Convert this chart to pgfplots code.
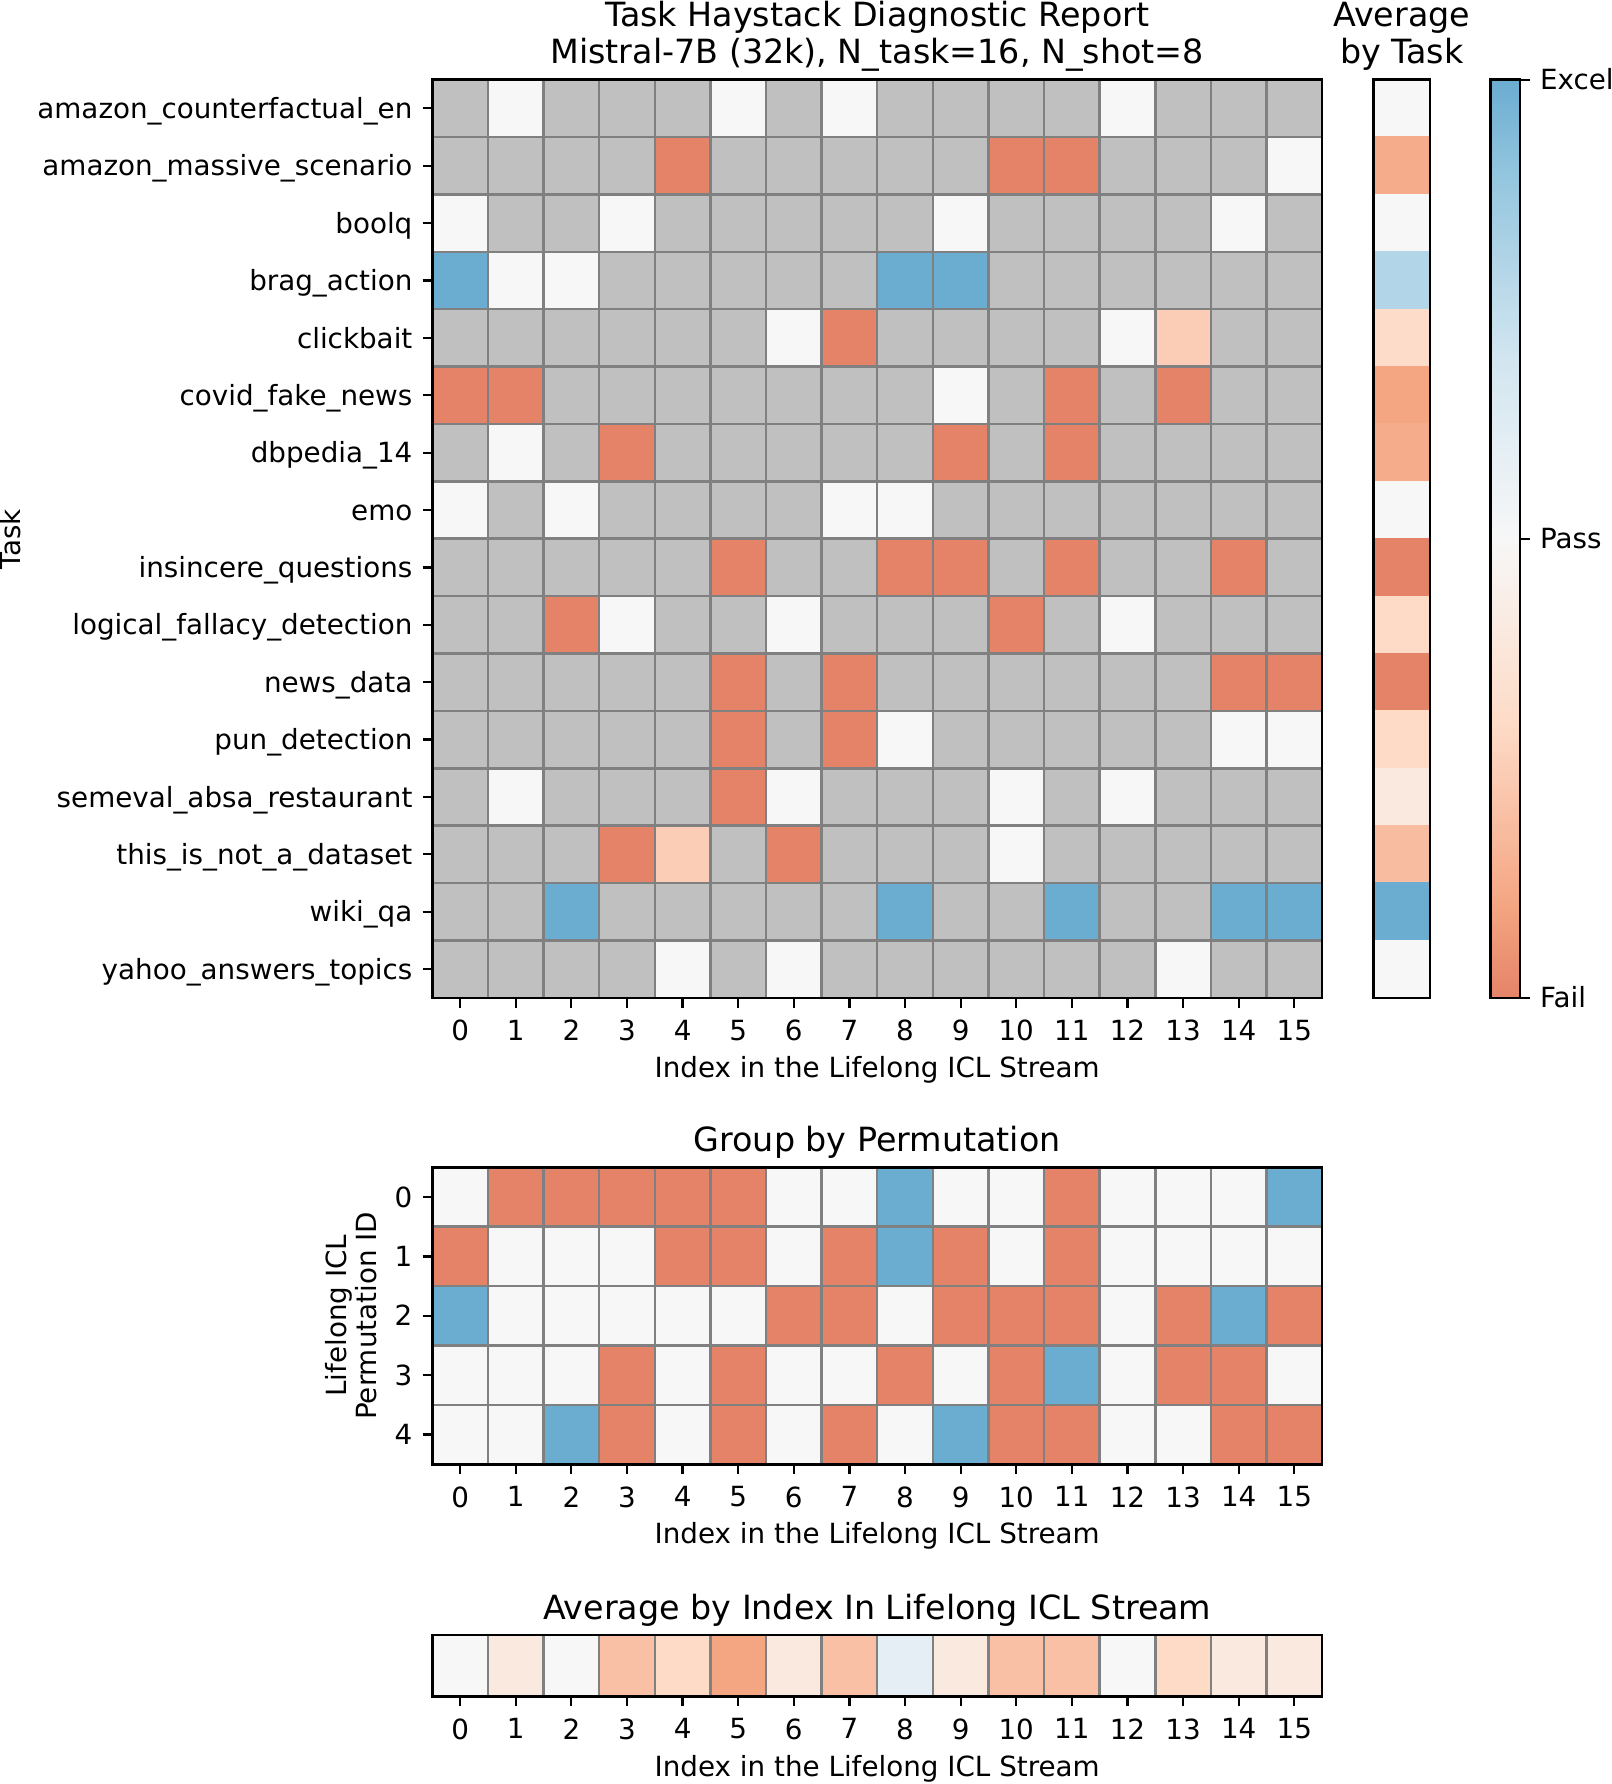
\documentclass[border=0pt]{standalone}
\usepackage{pgfplots}
\pgfplotsset{compat=1.18}
\usepackage{fontspec}
\setmainfont{DejaVu Sans}
\newcommand\fsa{\fontsize{10}{12}\selectfont}
\newcommand\fsb{\fontsize{12}{14.4}\selectfont}
\pgfplotsset{
  colormap={rdb}{rgb255=(229,131,104) rgb255=(244,165,130) rgb255=(249,192,165) rgb255=(253,219,199) rgb255=(250,233,223) rgb255=(247,247,247) rgb255=(228,238,244) rgb255=(209,229,240) rgb255=(178,213,231) rgb255=(146,197,222) rgb255=(107,172,209)},
  colormap={rdbg}{rgb255=(192,192,192) rgb255=(192,192,192) rgb255=(192,192,192) rgb255=(192,192,192) rgb255=(192,192,192) rgb255=(229,131,104) rgb255=(244,165,130) rgb255=(249,192,165) rgb255=(253,219,199) rgb255=(250,233,223) rgb255=(247,247,247) rgb255=(228,238,244) rgb255=(209,229,240) rgb255=(178,213,231) rgb255=(146,197,222) rgb255=(107,172,209)},
  hm/.style={
    scale only axis, axis on top, anchor=south west,
    clip marker paths=true,
    tick align=outside, major tick length=3.5pt,
    tick style={black, line width=0.8pt},
    minor tick length=0pt,
    axis line style={black, line width=0.9pt},
    minor grid style={draw=gray, line width=0.9pt},
    /pgf/number format/assume math mode=true,
    tick label style={font=\fsa},
    xticklabel style={inner sep=0pt, anchor=north, yshift=-4.3pt},
    yticklabel style={inner sep=0pt, anchor=base east, yshift=-3.65pt, xshift=-3.5pt},
    xtick pos=bottom, ytick pos=left,
  },
  cells/.style={scatter, only marks, mark=square*, point meta=explicit,
    scatter/use mapped color={draw=mapped color, fill=mapped color}},
}
\begin{document}
\begin{tikzpicture}
\useasboundingbox (0pt,0pt) rectangle (579.99pt,642.25pt);
% ---------- main heatmap ----------
\begin{axis}[hm, at={(155.65pt,283.03pt)}, width=320.31pt, height=330.55pt,
  colormap name=rdbg, point meta min=-1, point meta max=2,
  xmin=-0.5, xmax=15.5, ymin=-0.5, ymax=15.5, y dir=reverse,
  xtick={0,...,15}, ytick={0,...,15},
  yticklabels={amazon\_counterfactual\_en, amazon\_massive\_scenario, boolq, brag\_action, clickbait, covid\_fake\_news, dbpedia\_14, emo, insincere\_questions, logical\_fallacy\_detection, news\_data, pun\_detection, semeval\_absa\_restaurant, this\_is\_not\_a\_dataset, wiki\_qa, yahoo\_answers\_topics},
  minor xtick={-0.5,0.5,...,15.5}, minor ytick={-0.5,0.5,...,15.5},
  xminorgrids, yminorgrids]
\addplot[cells, mark size=10.33pt, mark options={xscale=0.969}] coordinates {
(0,0) [-1] (1,0) [1] (2,0) [-1] (3,0) [-1] (4,0) [-1] (5,0) [1] (6,0) [-1] (7,0) [1] (8,0) [-1] (9,0) [-1] (10,0) [-1] (11,0) [-1] (12,0) [1] (13,0) [-1] (14,0) [-1] (15,0) [-1]
(0,1) [-1] (1,1) [-1] (2,1) [-1] (3,1) [-1] (4,1) [0] (5,1) [-1] (6,1) [-1] (7,1) [-1] (8,1) [-1] (9,1) [-1] (10,1) [0] (11,1) [0] (12,1) [-1] (13,1) [-1] (14,1) [-1] (15,1) [1]
(0,2) [1] (1,2) [-1] (2,2) [-1] (3,2) [1] (4,2) [-1] (5,2) [-1] (6,2) [-1] (7,2) [-1] (8,2) [-1] (9,2) [1] (10,2) [-1] (11,2) [-1] (12,2) [-1] (13,2) [-1] (14,2) [1] (15,2) [-1]
(0,3) [2] (1,3) [1] (2,3) [1] (3,3) [-1] (4,3) [-1] (5,3) [-1] (6,3) [-1] (7,3) [-1] (8,3) [2] (9,3) [2] (10,3) [-1] (11,3) [-1] (12,3) [-1] (13,3) [-1] (14,3) [-1] (15,3) [-1]
(0,4) [-1] (1,4) [-1] (2,4) [-1] (3,4) [-1] (4,4) [-1] (5,4) [-1] (6,4) [1] (7,4) [0] (8,4) [-1] (9,4) [-1] (10,4) [-1] (11,4) [-1] (12,4) [1] (13,4) [0.5] (14,4) [-1] (15,4) [-1]
(0,5) [0] (1,5) [0] (2,5) [-1] (3,5) [-1] (4,5) [-1] (5,5) [-1] (6,5) [-1] (7,5) [-1] (8,5) [-1] (9,5) [1] (10,5) [-1] (11,5) [0] (12,5) [-1] (13,5) [0] (14,5) [-1] (15,5) [-1]
(0,6) [-1] (1,6) [1] (2,6) [-1] (3,6) [0] (4,6) [-1] (5,6) [-1] (6,6) [-1] (7,6) [-1] (8,6) [-1] (9,6) [0] (10,6) [-1] (11,6) [0] (12,6) [-1] (13,6) [-1] (14,6) [-1] (15,6) [-1]
(0,7) [1] (1,7) [-1] (2,7) [1] (3,7) [-1] (4,7) [-1] (5,7) [-1] (6,7) [-1] (7,7) [1] (8,7) [1] (9,7) [-1] (10,7) [-1] (11,7) [-1] (12,7) [-1] (13,7) [-1] (14,7) [-1] (15,7) [-1]
(0,8) [-1] (1,8) [-1] (2,8) [-1] (3,8) [-1] (4,8) [-1] (5,8) [0] (6,8) [-1] (7,8) [-1] (8,8) [0] (9,8) [0] (10,8) [-1] (11,8) [0] (12,8) [-1] (13,8) [-1] (14,8) [0] (15,8) [-1]
(0,9) [-1] (1,9) [-1] (2,9) [0] (3,9) [1] (4,9) [-1] (5,9) [-1] (6,9) [1] (7,9) [-1] (8,9) [-1] (9,9) [-1] (10,9) [0] (11,9) [-1] (12,9) [1] (13,9) [-1] (14,9) [-1] (15,9) [-1]
(0,10) [-1] (1,10) [-1] (2,10) [-1] (3,10) [-1] (4,10) [-1] (5,10) [0] (6,10) [-1] (7,10) [0] (8,10) [-1] (9,10) [-1] (10,10) [-1] (11,10) [-1] (12,10) [-1] (13,10) [-1] (14,10) [0] (15,10) [0]
(0,11) [-1] (1,11) [-1] (2,11) [-1] (3,11) [-1] (4,11) [-1] (5,11) [0] (6,11) [-1] (7,11) [0] (8,11) [1] (9,11) [-1] (10,11) [-1] (11,11) [-1] (12,11) [-1] (13,11) [-1] (14,11) [1] (15,11) [1]
(0,12) [-1] (1,12) [1] (2,12) [-1] (3,12) [-1] (4,12) [-1] (5,12) [0] (6,12) [1] (7,12) [-1] (8,12) [-1] (9,12) [-1] (10,12) [1] (11,12) [-1] (12,12) [1] (13,12) [-1] (14,12) [-1] (15,12) [-1]
(0,13) [-1] (1,13) [-1] (2,13) [-1] (3,13) [0] (4,13) [0.5] (5,13) [-1] (6,13) [0] (7,13) [-1] (8,13) [-1] (9,13) [-1] (10,13) [1] (11,13) [-1] (12,13) [-1] (13,13) [-1] (14,13) [-1] (15,13) [-1]
(0,14) [-1] (1,14) [-1] (2,14) [2] (3,14) [-1] (4,14) [-1] (5,14) [-1] (6,14) [-1] (7,14) [-1] (8,14) [2] (9,14) [-1] (10,14) [-1] (11,14) [2] (12,14) [-1] (13,14) [-1] (14,14) [2] (15,14) [2]
(0,15) [-1] (1,15) [-1] (2,15) [-1] (3,15) [-1] (4,15) [1] (5,15) [-1] (6,15) [1] (7,15) [-1] (8,15) [-1] (9,15) [-1] (10,15) [-1] (11,15) [-1] (12,15) [-1] (13,15) [1] (14,15) [-1] (15,15) [-1]
};
\end{axis}
% ---------- average by task ----------
\begin{axis}[hm, at={(494.39pt,283.03pt)}, width=20.48pt, height=330.55pt,
  colormap name=rdb, point meta min=0, point meta max=2,
  xmin=-0.5, xmax=0.5, ymin=-0.5, ymax=15.5, y dir=reverse,
  xtick=\empty, ytick=\empty,
  minor ytick={-0.5,0.5,...,15.5}, yminorgrids]
\addplot[cells, mark size=10.33pt, mark options={xscale=0.991}] coordinates {
(0,0) [1.0] (0,1) [0.25] (0,2) [1.0] (0,3) [1.6] (0,4) [0.625] (0,5) [0.2] (0,6) [0.25] (0,7) [1.0]
(0,8) [0.0] (0,9) [0.6] (0,10) [0.0] (0,11) [0.6] (0,12) [0.8] (0,13) [0.375] (0,14) [2.0] (0,15) [1.0]
};
\end{axis}
% ---------- colour bar ----------
\begin{axis}[scale only axis, anchor=south west, at={(536.58pt,283.03pt)}, width=10.65pt, height=330.55pt,
  colormap name=rdb, point meta min=0, point meta max=2,
  xmin=0, xmax=1, ymin=0, ymax=2, axis on top,
  axis line style={black, line width=0.9pt},
  tick align=outside, major tick length=3.5pt, tick style={black, line width=0.8pt},
  xtick=\empty, ytick={0,1,2}, yticklabels={Fail,Pass,Excel},
  ytick pos=right, yticklabel pos=right,
  yticklabel style={font=\fsa, inner sep=0pt, anchor=base west, yshift=-3.65pt, xshift=3.5pt}]
\addplot[surf, shader=interp, mesh/rows=2, point meta=explicit] coordinates {
(0,0) [0] (1,0) [0]
(0,2) [2] (1,2) [2]
};
\end{axis}
% ---------- group by permutation ----------
\begin{axis}[hm, at={(155.65pt,115.10pt)}, width=320.31pt, height=106.91pt,
  colormap name=rdb, point meta min=0, point meta max=2,
  xmin=-0.5, xmax=15.5, ymin=-0.5, ymax=4.5, y dir=reverse,
  xtick={0,...,15}, ytick={0,...,4},
  minor xtick={-0.5,0.5,...,15.5}, minor ytick={-0.5,0.5,...,4.5},
  xminorgrids, yminorgrids]
\addplot[cells, mark size=10.69pt, mark options={xscale=0.9363}] coordinates {
(0,0) [1] (1,0) [0] (2,0) [0] (3,0) [0] (4,0) [0] (5,0) [0] (6,0) [1] (7,0) [1] (8,0) [2] (9,0) [1] (10,0) [1] (11,0) [0] (12,0) [1] (13,0) [1] (14,0) [1] (15,0) [2]
(0,1) [0] (1,1) [1] (2,1) [1] (3,1) [1] (4,1) [0] (5,1) [0] (6,1) [1] (7,1) [0] (8,1) [2] (9,1) [0] (10,1) [1] (11,1) [0] (12,1) [1] (13,1) [1] (14,1) [1] (15,1) [1]
(0,2) [2] (1,2) [1] (2,2) [1] (3,2) [1] (4,2) [1] (5,2) [1] (6,2) [0] (7,2) [0] (8,2) [1] (9,2) [0] (10,2) [0] (11,2) [0] (12,2) [1] (13,2) [0] (14,2) [2] (15,2) [0]
(0,3) [1] (1,3) [1] (2,3) [1] (3,3) [0] (4,3) [1] (5,3) [0] (6,3) [1] (7,3) [1] (8,3) [0] (9,3) [1] (10,3) [0] (11,3) [2] (12,3) [1] (13,3) [0] (14,3) [0] (15,3) [1]
(0,4) [1] (1,4) [1] (2,4) [2] (3,4) [0] (4,4) [1] (5,4) [0] (6,4) [1] (7,4) [0] (8,4) [1] (9,4) [2] (10,4) [0] (11,4) [0] (12,4) [1] (13,4) [1] (14,4) [0] (15,4) [0]
};
\end{axis}
% ---------- average by index ----------
\begin{axis}[hm, at={(155.65pt,31.54pt)}, width=320.31pt, height=22.12pt,
  colormap name=rdb, point meta min=0, point meta max=2,
  xmin=-0.5, xmax=15.5, ymin=-0.5, ymax=0.5,
  xtick={0,...,15}, ytick=\empty,
  minor xtick={-0.5,0.5,...,15.5}, xminorgrids]
\addplot[cells, mark size=11.06pt, mark options={xscale=0.9051}] coordinates {
(0,0) [1.0] (1,0) [0.8] (2,0) [1.0] (3,0) [0.4] (4,0) [0.6] (5,0) [0.2] (6,0) [0.8] (7,0) [0.4]
(8,0) [1.2] (9,0) [0.8] (10,0) [0.4] (11,0) [0.4] (12,0) [1.0] (13,0) [0.6] (14,0) [0.8] (15,0) [0.8]
};
\end{axis}
% ---------- texts ----------
\node[anchor=base, font=\fsb, inner sep=0pt] at (315.80pt,632.87pt) {Task Haystack Diagnostic Report};
\node[anchor=base, font=\fsb, inner sep=0pt] at (315.80pt,619.44pt) {Mistral-7B (32k), N\_task=16, N\_shot=8};
\node[anchor=base, font=\fsb, inner sep=0pt] at (504.62pt,632.87pt) {Average};
\node[anchor=base, font=\fsb, inner sep=0pt] at (504.62pt,619.44pt) {by Task};
\node[anchor=base, font=\fsa, inner sep=0pt] at (315.80pt,254.36pt) {Index in the Lifelong ICL Stream};
\node[anchor=base, font=\fsa, inner sep=0pt, rotate=90] at (7.45pt,448.10pt) {Task};
\node[anchor=base, font=\fsb, inner sep=0pt] at (315.80pt,227.74pt) {Group by Permutation};
\node[anchor=base, font=\fsa, inner sep=0pt] at (315.80pt,86.43pt) {Index in the Lifelong ICL Stream};
\node[anchor=base, font=\fsa, inner sep=0pt, rotate=90] at (124.72pt,168.55pt) {Lifelong ICL};
\node[anchor=base, font=\fsa, inner sep=0pt, rotate=90] at (135.58pt,168.55pt) {Permutation ID};
\node[anchor=base, font=\fsb, inner sep=0pt] at (315.80pt,59.39pt) {Average by Index In Lifelong ICL Stream};
\node[anchor=base, font=\fsa, inner sep=0pt] at (315.80pt,2.87pt) {Index in the Lifelong ICL Stream};
\end{tikzpicture}
\end{document}
